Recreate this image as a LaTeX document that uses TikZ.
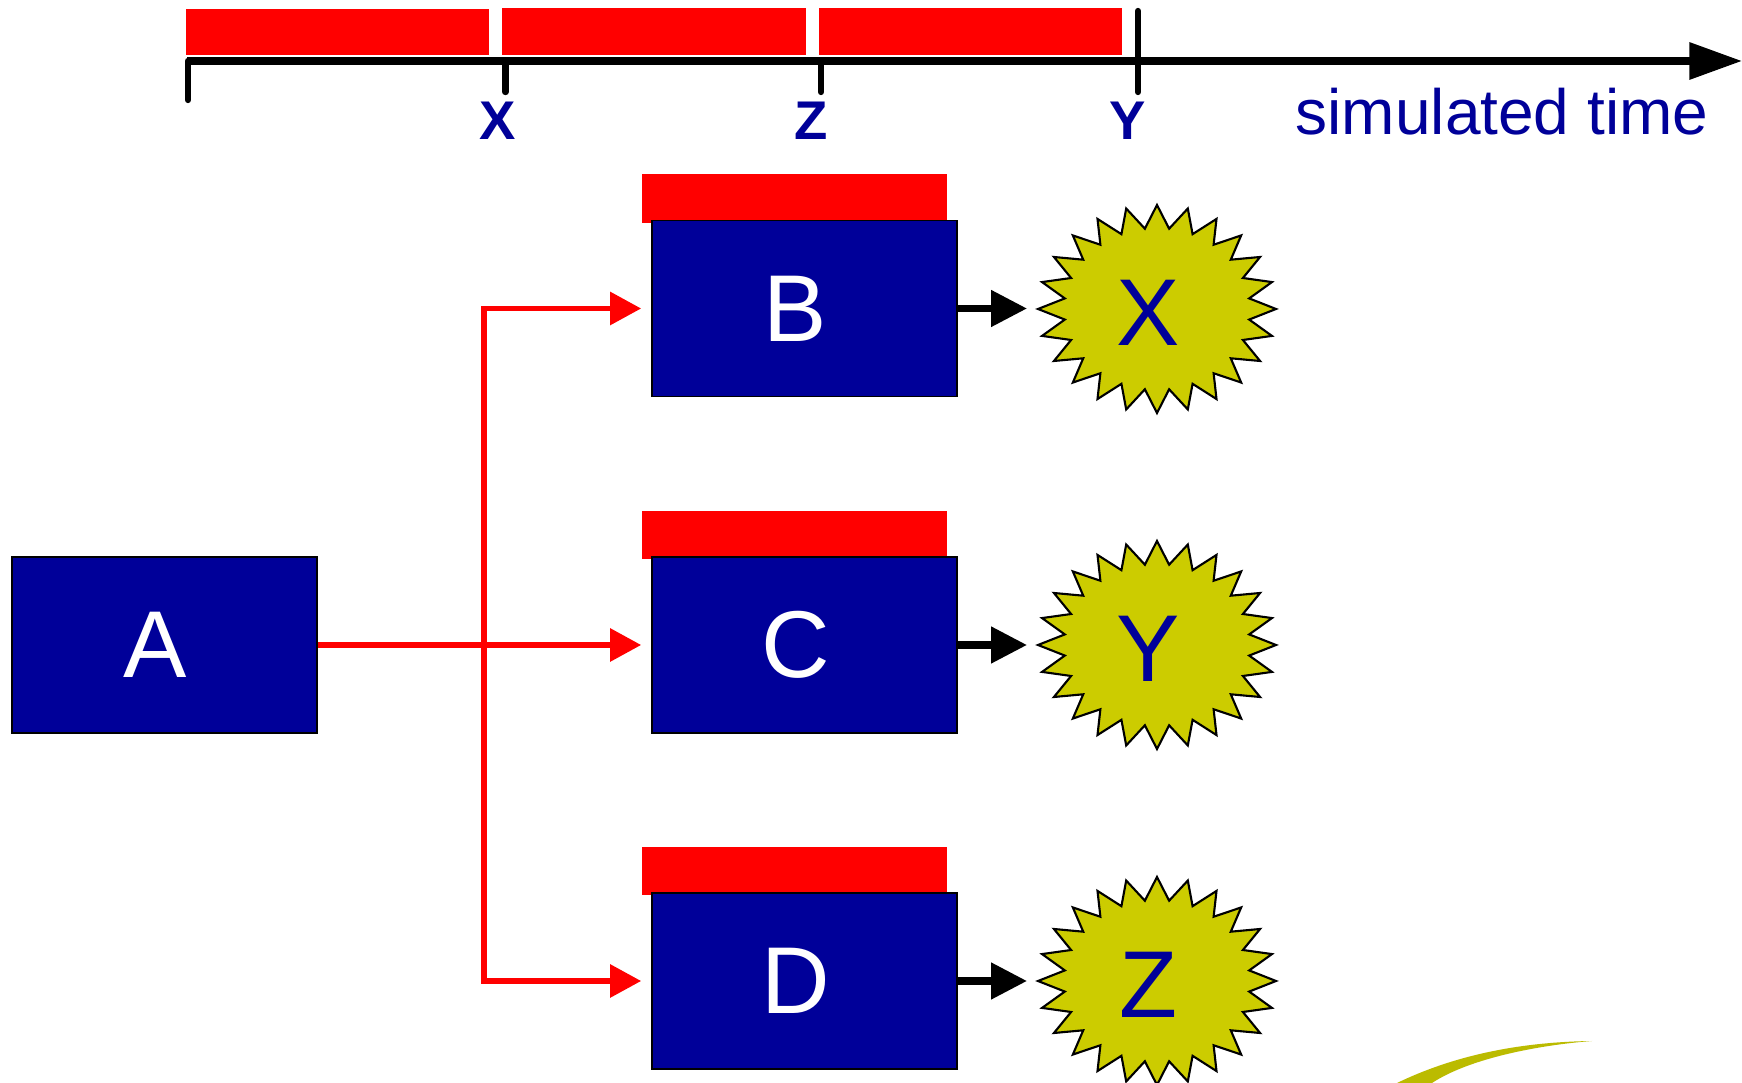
\documentclass[tikz,border=0pt]{standalone}
\usepackage{fontspec}
\setmainfont{Liberation Sans}
\usetikzlibrary{arrows.meta}
\definecolor{navy}{RGB}{0,0,153}
\definecolor{burst}{RGB}{204,204,0}
\definecolor{swoosh}{RGB}{187,187,0}
\newcommand\burstat[2]{%
  \filldraw[starst] ({#1+119},#2) \foreach \i in {1,...,47}{ -- ({#1+(119-26*mod(\i,2))*cos(7.5*\i)},{#2+(104-23*mod(\i,2))*sin(7.5*\i)}) } -- cycle;}
\newcommand\boxtxt[1]{\raisebox{-0.04cm}{#1\hspace*{0.18cm}}}
\begin{document}
\begin{tikzpicture}[x=0.01cm,y=-0.01cm,
 bluebox/.style={fill=navy,draw=black,line width=0.4pt,minimum width=3.05cm,minimum height=1.76cm,inner sep=0pt,text=white,font=\fontsize{27}{27}\selectfont},
 capbox/.style={fill=red,minimum width=3.05cm,minimum height=0.48cm,inner sep=0pt},
 redconn/.style={draw=red,line width=1.6pt,-{Triangle[length=8.8pt,width=9.1pt]}},
 blkconn/.style={line width=2pt,-{Triangle[length=10.2pt,width=10pt]}},
 starst/.style={fill=burst,draw=black,line width=0.6pt,line join=miter},
 starlbl/.style={text=navy,font=\fontsize{27}{27}\selectfont,inner sep=0pt},
 ticklin/.style={line width=1.8pt,line cap=round},
 tlabel/.style={text=navy,font=\bfseries\fontsize{15.5}{15.5}\selectfont,inner sep=0pt},
 segbar/.style={fill=red}]
\useasboundingbox (0,0) rectangle (1742,1083);

% timeline
\fill[segbar] (185.5,9) rectangle (489,55.5);
\fill[segbar] (502,8) rectangle (805.5,55.5);
\fill[segbar] (819,8) rectangle (1122,55.5);
\coordinate (t0) at (187,61);
\coordinate (tend) at (1742,61);
\draw[line width=2pt,-{Triangle[length=15pt,width=10.2pt]}] (t0) -- (tend);
\draw[ticklin] (188,61) -- (188,100);
\draw[ticklin] (505.5,61) -- (505.5,92);
\draw[ticklin] (821,61) -- (821,92);
\draw[ticklin] (1138,11) -- (1138,92);
\node[tlabel] (lx) at (498,121) {X};
\node[tlabel] (lz) at (811,121) {Z};
\node[tlabel] (ly) at (1128,121) {Y};
\node[text=navy,font=\fontsize{18.2}{18.2}\selectfont,inner sep=0pt,anchor=east] (st) at (1709,112) {simulated time};

% boxes
\node[capbox] (Bcap) at (794.5,198.5) {};
\node[capbox] (Ccap) at (794.5,535) {};
\node[capbox] (Dcap) at (794.5,871) {};
\node[bluebox] (A) at (164.5,645) {\boxtxt{A}};
\node[bluebox] (B) at (804.5,308.5) {\boxtxt{B}};
\node[bluebox] (C) at (804.5,645) {\boxtxt{C}};
\node[bluebox] (D) at (804.5,981) {\boxtxt{D}};

% stars
\burstat{1157}{309}
\burstat{1157}{645}
\burstat{1157}{981}
\node[starlbl] (SX) at (1148,313) {X};
\node[starlbl] (SY) at (1148,649) {Y};
\node[starlbl] (SZ) at (1148,985) {Z};

% connectors
\coordinate (J) at (484,645);
\draw[redconn,shorten >=2.85pt] (A.east) -- (C.west);
\draw[redconn,shorten >=2.85pt] (J) |- (B.west);
\draw[redconn,shorten >=2.85pt] (J) |- (D.west);
\coordinate (tX) at (1027,308.5);
\coordinate (tY) at (1027,645);
\coordinate (tZ) at (1027,981);
\draw[blkconn] (B.east) -- (tX);
\draw[blkconn] (C.east) -- (tY);
\draw[blkconn] (D.east) -- (tZ);

% swoosh
\fill[swoosh] (1397,1083) .. controls (1455,1055) and (1520,1042) .. (1592,1041)
  .. controls (1540,1045) and (1470,1058) .. (1432,1083) -- cycle;
\end{tikzpicture}
\end{document}
